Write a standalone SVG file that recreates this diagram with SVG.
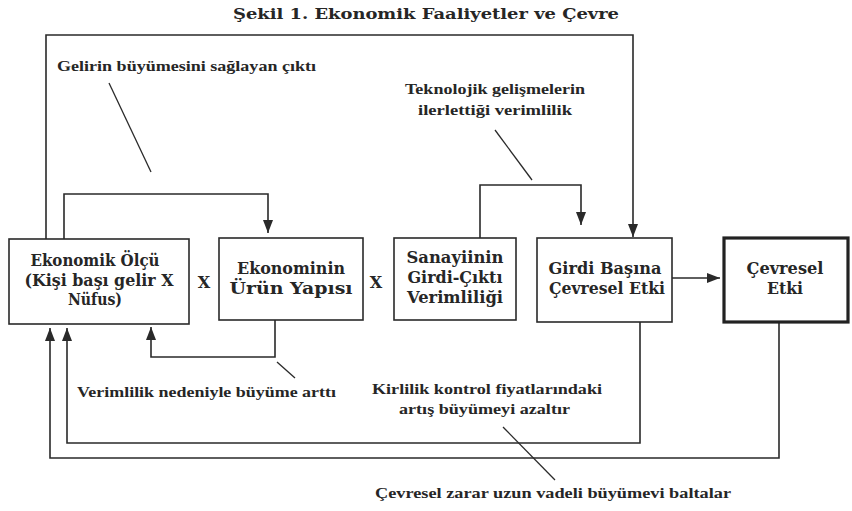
<svg xmlns="http://www.w3.org/2000/svg" width="852" height="511" viewBox="0 0 852 511">
<style>
.bg{fill:#ffffff}
.box{fill:none;stroke:#2a2a2a;stroke-width:1.6}
.thick{fill:none;stroke:#222;stroke-width:3.2}
.bt{font-family:"DejaVu Serif","Liberation Serif",serif;font-weight:bold;font-size:16px;fill:#262626;text-anchor:middle}
.an{font-family:"Liberation Serif","DejaVu Serif",serif;font-weight:bold;font-size:15px;fill:#262626}
.title{font-family:"DejaVu Serif","Liberation Serif",serif;font-weight:bold;font-size:15px;fill:#262626}
.ln{fill:none;stroke:#2a2a2a;stroke-width:1.6}
.ld{fill:none;stroke:#2a2a2a;stroke-width:1.3}
</style>
<defs>
<marker id="ah" markerUnits="userSpaceOnUse" markerWidth="13" markerHeight="10" refX="13" refY="5" orient="auto">
<path d="M0,0 L13,5 L0,10 z" fill="#2a2a2a"/>
</marker>
</defs>
<rect class="bg" x="0" y="0" width="852" height="511"/>
<text class="title" x="233" y="19" textLength="386" lengthAdjust="spacingAndGlyphs">Şekil 1. Ekonomik Faaliyetler ve Çevre</text>

<g id="connectors">
<path class="ln" d="M46,239 V35 H633 V237" marker-end="url(#ah)"/>
<path class="ln" d="M64,239 V194 H268 V233" marker-end="url(#ah)"/>
<path class="ln" d="M480,238 V185 H581 V225" marker-end="url(#ah)"/>
<path class="ln" d="M672,278 H720" marker-end="url(#ah)"/>
<path class="ln" d="M275,320 V357 H151 V327" marker-end="url(#ah)"/>
<path class="ln" d="M640,322 V443 H67 V328" marker-end="url(#ah)"/>
<path class="ln" d="M779,322 V458 H50 V328" marker-end="url(#ah)"/>
<line class="ld" x1="109" y1="83" x2="151" y2="172"/>
<line class="ld" x1="495" y1="130" x2="532" y2="180"/>
<line class="ld" x1="277" y1="362" x2="295" y2="378"/>
<line class="ld" x1="503" y1="427" x2="555" y2="480"/>
</g>

<g id="node-ekonomik-olcu">
<rect class="box" x="9" y="239" width="180" height="85"/>
<text class="bt" x="95" y="266" textLength="129" lengthAdjust="spacingAndGlyphs">Ekonomik Ölçü</text>
<text class="bt" x="99" y="286" textLength="149" lengthAdjust="spacingAndGlyphs">(Kişi başı gelir X</text>
<text class="bt" x="95" y="305" textLength="54" lengthAdjust="spacingAndGlyphs">Nüfus)</text>
</g>
<g id="sym-x1"><text class="bt" x="204" y="288">X</text></g>
<g id="node-urun-yapisi">
<rect class="box" x="219" y="238" width="144" height="82"/>
<text class="bt" x="291" y="274" textLength="108" lengthAdjust="spacingAndGlyphs">Ekonominin</text>
<text class="bt" x="291" y="294" textLength="123" lengthAdjust="spacingAndGlyphs">Ürün Yapısı</text>
</g>
<g id="sym-x2"><text class="bt" x="376" y="288">X</text></g>
<g id="node-sanayi">
<rect class="box" x="394" y="238" width="122" height="82"/>
<text class="bt" x="455" y="263" textLength="97" lengthAdjust="spacingAndGlyphs">Sanayiinin</text>
<text class="bt" x="455" y="283" textLength="95" lengthAdjust="spacingAndGlyphs">Girdi-Çıktı</text>
<text class="bt" x="455" y="303" textLength="96" lengthAdjust="spacingAndGlyphs">Verimliliği</text>
</g>
<g id="node-girdi-basina">
<rect class="box" x="537" y="238" width="135" height="84"/>
<text class="bt" x="605" y="274" textLength="113" lengthAdjust="spacingAndGlyphs">Girdi Başına</text>
<text class="bt" x="607" y="294" textLength="116" lengthAdjust="spacingAndGlyphs">Çevresel Etki</text>
</g>
<g id="node-cevresel-etki">
<rect class="thick" x="724" y="238" width="124" height="84"/>
<text class="bt" x="785" y="274" textLength="77" lengthAdjust="spacingAndGlyphs">Çevresel</text>
<text class="bt" x="785" y="294" textLength="36" lengthAdjust="spacingAndGlyphs">Etki</text>
</g>

<g id="labels">
<text class="an" x="57" y="71" textLength="259" lengthAdjust="spacingAndGlyphs">Gelirin büyümesini sağlayan çıktı</text>
<text class="an" x="405" y="94" textLength="180" lengthAdjust="spacingAndGlyphs">Teknolojik gelişmelerin</text>
<text class="an" x="418" y="115" textLength="154" lengthAdjust="spacingAndGlyphs">ilerlettiği verimlilik</text>
<text class="an" x="77" y="397" textLength="259" lengthAdjust="spacingAndGlyphs">Verimlilik nedeniyle büyüme arttı</text>
<text class="an" x="372" y="394" textLength="230" lengthAdjust="spacingAndGlyphs">Kirlilik kontrol fiyatlarındaki</text>
<text class="an" x="399" y="414" textLength="171" lengthAdjust="spacingAndGlyphs">artış büyümeyi azaltır</text>
<text class="an" x="375" y="498" textLength="356" lengthAdjust="spacingAndGlyphs">Çevresel zarar uzun vadeli büyümevi baltalar</text>
</g>
</svg>
